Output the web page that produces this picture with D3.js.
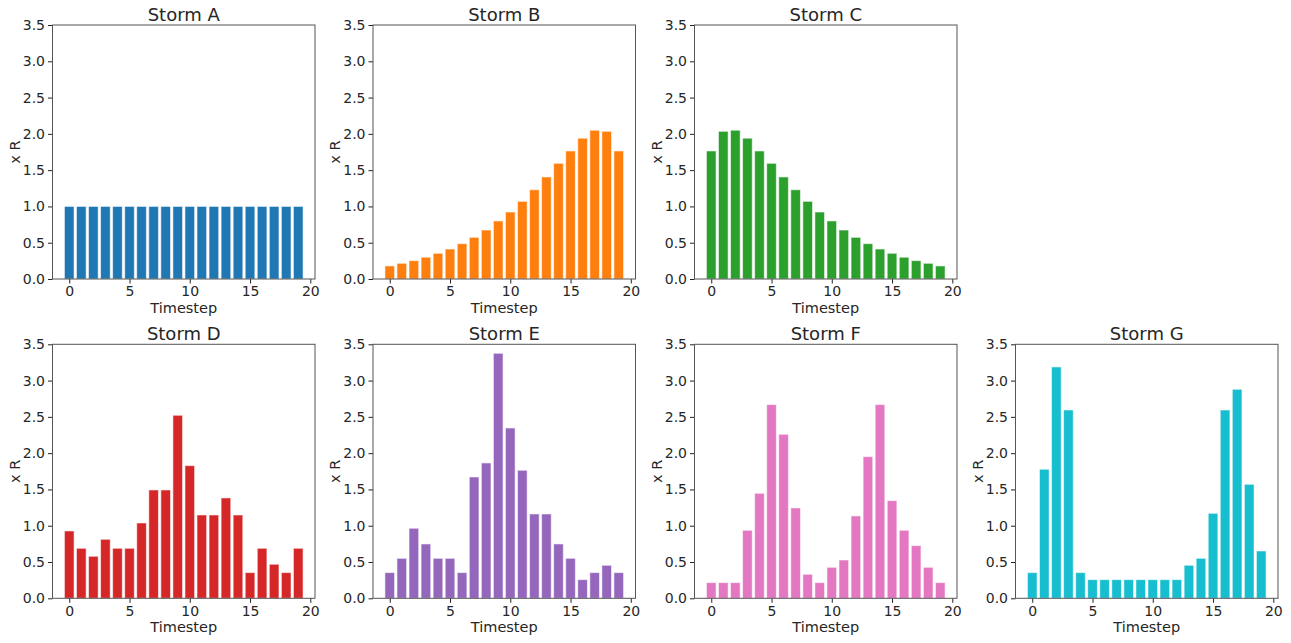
<!DOCTYPE html>
<html>
<head>
<meta charset="utf-8">
<script src="https://cdn.jsdelivr.net/npm/d3@7"></script>
<style>
  html, body { margin: 0; padding: 0; background: #fff; }
  svg { display: block; font-family: "DejaVu Sans", sans-serif; }
</style>
</head>
<body>
<svg id="chart" width="1291" height="643"></svg>
<script>
// ---- data ----
const timesteps = d3.range(20);
const stormNames = ["Storm A", "Storm B", "Storm C", "Storm D", "Storm E", "Storm F", "Storm G"];
const stormColors = ["#1f77b4", "#ff7f0e", "#2ca02c", "#d62728", "#9467bd", "#e377c2", "#17becf"];
const stormA = [1.0, 1.0, 1.0, 1.0, 1.0, 1.0, 1.0, 1.0, 1.0, 1.0, 1.0, 1.0, 1.0, 1.0, 1.0, 1.0, 1.0, 1.0, 1.0, 1.0];
const stormB = [0.18, 0.216, 0.253, 0.30, 0.354, 0.413, 0.487, 0.574, 0.675, 0.80, 0.923, 1.07, 1.23, 1.406, 1.594, 1.764, 1.94, 2.05, 2.035, 1.764];
const stormC = [1.764, 2.035, 2.05, 1.94, 1.764, 1.594, 1.406, 1.23, 1.07, 0.923, 0.80, 0.675, 0.574, 0.487, 0.413, 0.354, 0.30, 0.253, 0.216, 0.18];
const stormD = [0.928, 0.689, 0.579, 0.813, 0.689, 0.689, 1.038, 1.493, 1.493, 2.522, 1.828, 1.148, 1.148, 1.383, 1.148, 0.354, 0.689, 0.469, 0.354, 0.689];
const stormE = [0.354, 0.551, 0.965, 0.749, 0.551, 0.551, 0.354, 1.672, 1.865, 3.376, 2.347, 1.764, 1.162, 1.162, 0.749, 0.551, 0.257, 0.354, 0.455, 0.354];
const stormF = [0.216, 0.216, 0.216, 0.937, 1.447, 2.669, 2.26, 1.245, 0.331, 0.216, 0.427, 0.528, 1.135, 1.952, 2.669, 1.346, 0.937, 0.726, 0.427, 0.216];
const stormG = [0.354, 1.778, 3.188, 2.595, 0.354, 0.257, 0.257, 0.257, 0.257, 0.257, 0.257, 0.257, 0.257, 0.455, 0.551, 1.171, 2.595, 2.88, 1.571, 0.652];
const stormSeries = [stormA, stormB, stormC, stormD, stormE, stormF, stormG];
const xTicks = [0, 5, 10, 15, 20];
const yTicks = [0.0, 0.5, 1.0, 1.5, 2.0, 2.5, 3.0, 3.5];
const xLabel = "Timestep";
const yLabel = "x R";

// ---- layout ----
const svg = d3.select("#chart");
const panelW = 262.5, panelH = 254;
const colLeft = [52.5, 373, 694.5, 1015.5];
const rowTop = [25, 344.3];
const placement = [[0,0],[0,1],[0,2],[1,0],[1,1],[1,2],[1,3]];
const textColor = "#262626";

stormSeries.forEach((vals, k) => {
  const [r, c] = placement[k];
  const left = colLeft[c], top = rowTop[r];
  const g = svg.append("g").attr("transform", `translate(${left},${top})`);

  const x = d3.scaleLinear().domain([-1.39, 20.39]).range([0, panelW]);
  const y = d3.scaleLinear().domain([0, 3.5]).range([panelH, 0]);

  // bars
  g.selectAll("rect.bar").data(vals).join("rect")
    .attr("class", "bar")
    .attr("x", (d, i) => x(timesteps[i] - 0.4))
    .attr("width", x(0.8) - x(0))
    .attr("y", d => y(d))
    .attr("height", d => y(0) - y(d))
    .attr("fill", stormColors[k])
    .attr("stroke", "#ffffff")
    .attr("stroke-opacity", 0.55)
    .attr("stroke-width", 1);

  // axes
  const xAxis = d3.axisBottom(x).tickValues(xTicks).tickSize(4.5).tickPadding(3).tickFormat(d3.format("d"));
  const yAxis = d3.axisLeft(y).tickValues(yTicks).tickSize(4.5).tickPadding(3).tickFormat(d3.format(".1f"));

  const gx = g.append("g").attr("transform", `translate(0,${panelH})`).call(xAxis);
  const gy = g.append("g").call(yAxis);
  [gx, gy].forEach(ax => {
    ax.select(".domain").remove();
    ax.selectAll(".tick line").attr("stroke", "#222").attr("stroke-width", 1);
    ax.selectAll(".tick text").attr("fill", textColor).style("font-size", "14px")
      .style("font-family", "DejaVu Sans, sans-serif");
  });

  // frame
  g.append("rect")
    .attr("x", 0).attr("y", 0).attr("width", panelW).attr("height", panelH)
    .attr("fill", "none").attr("stroke", "#555").attr("stroke-width", 1);

  // title
  g.append("text")
    .attr("x", panelW / 2).attr("y", -4.5)
    .attr("text-anchor", "middle")
    .attr("fill", textColor)
    .style("font-size", "18px")
    .text(stormNames[k]);

  // y label
  g.append("text")
    .attr("transform", `translate(-33,${panelH / 2}) rotate(-90)`)
    .attr("text-anchor", "middle")
    .attr("fill", textColor)
    .style("font-size", "14.5px")
    .text(yLabel);

  // x label
  g.append("text")
    .attr("x", panelW / 2).attr("y", panelH + 34)
    .attr("text-anchor", "middle")
    .attr("fill", textColor)
    .style("font-size", "14.5px")
    .text(xLabel);
});
</script>
</body>
</html>
